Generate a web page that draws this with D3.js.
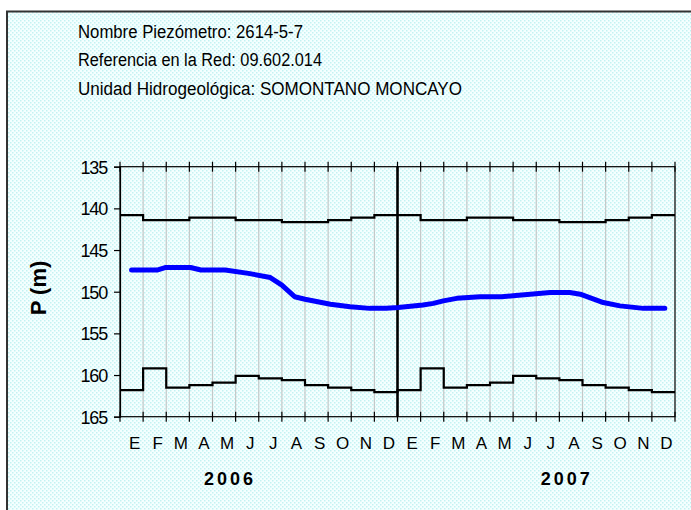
<!DOCTYPE html>
<html><head><meta charset="utf-8">
<script src="https://cdn.jsdelivr.net/npm/d3@7"></script>
<style>html,body{margin:0;padding:0;background:#fff;}svg{display:block;}</style>
</head><body>
<svg id="chart" width="691" height="510"></svg>
<script>
// ---- data ----
const headerLines = ["Nombre Piezómetro:  2614-5-7", "Referencia en la Red:   09.602.014", "Unidad Hidrogeológica: SOMONTANO  MONCAYO"];
const monthLabels = ["E","F","M","A","M","J","J","A","S","O","N","D","E","F","M","A","M","J","J","A","S","O","N","D"];
const years = ["2006","2007"];
const yTicks = [135,140,145,150,155,160,165];
const maxLevel = [140.8,141.4,141.4,141.1,141.1,141.4,141.4,141.65,141.65,141.4,141.1,140.8,
                  140.8,141.4,141.4,141.1,141.1,141.4,141.4,141.65,141.65,141.4,141.1,140.8];
const minLevel = [161.8,159.2,161.5,161.2,160.9,160.1,160.4,160.6,161.2,161.5,161.8,162.05,
                  161.8,159.2,161.5,161.2,160.9,160.1,160.4,160.6,161.2,161.5,161.8,162.05];
const measureMonth = [0.5,1.6,1.95,3.05,3.5,4.55,5.55,6.5,7.0,7.55,8.0,9.1,9.95,10.8,11.5,12.03,13.1,13.55,13.98,14.56,15.57,16.5,17.0,18.6,19.45,19.9,20.9,21.62,22.63,23.56];
const measureLevel = [147.4,147.4,147.1,147.1,147.4,147.4,147.8,148.3,149.2,150.6,150.9,151.5,151.8,152.0,152.0,151.9,151.6,151.4,151.1,150.8,150.6,150.6,150.5,150.1,150.1,150.3,151.3,151.7,152.0,152.0];

// ---- drawing ----
const svg = d3.select("#chart");
const font = "'Liberation Sans', Arial, sans-serif";
const defs = svg.append("defs");
const pat = defs.append("pattern").attr("id","dots").attr("patternUnits","userSpaceOnUse")
  .attr("width",4).attr("height",4);
pat.append("rect").attr("width",4).attr("height",4).attr("fill","#f4ffff");
pat.append("rect").attr("x",0).attr("y",0).attr("width",1.5).attr("height",1.5).attr("fill","#c4f2f2");
pat.append("rect").attr("x",2).attr("y",2).attr("width",1.5).attr("height",1.5).attr("fill","#c4f2f2");

svg.append("rect").attr("x",7).attr("y",11.5).attr("width",700).attr("height",520)
  .attr("fill","url(#dots)").attr("stroke","#333").attr("stroke-width",2);

const hdr = svg.append("g").attr("font-family",font).attr("font-size",18).attr("fill","#000");
const hdrLen = [225,244,384];
const hdrY = [37.5,66,94.5];
headerLines.forEach((t,i)=>{
  hdr.append("text").attr("x",78).attr("y",hdrY[i]).attr("textLength",hdrLen[i])
    .attr("lengthAdjust","spacingAndGlyphs").text(t);
});

const pLeft=120, pRight=675, pTop=166.7, pBottom=416.7;
const x = d3.scaleLinear().domain([0,24]).range([pLeft,pRight]);
const y = d3.scaleLinear().domain([135,165]).range([pTop,pBottom]);

// gridlines
const g = svg.append("g");
g.selectAll(".grid").data(d3.range(1,24)).join("line")
  .attr("x1",d=>x(d)).attr("x2",d=>x(d)).attr("y1",pTop).attr("y2",pBottom)
  .attr("stroke","#c4c8c8").attr("stroke-width",1.2);

// frame
g.append("rect").attr("x",pLeft).attr("y",pTop).attr("width",pRight-pLeft).attr("height",pBottom-pTop)
  .attr("fill","none").attr("stroke","#000").attr("stroke-width",1.2);

// top and bottom cross ticks
[pTop,pBottom].forEach(yy=>{
  g.append("g").selectAll("line").data(d3.range(0,25)).join("line")
    .attr("x1",d=>x(d)).attr("x2",d=>x(d)).attr("y1",yy-5).attr("y2",yy+5)
    .attr("stroke","#000").attr("stroke-width",1.2);
});

// y axis
const yAxis = d3.axisLeft(y).tickValues(yTicks).tickSize(6).tickPadding(7);
const ya = svg.append("g").attr("transform",`translate(${pLeft},0)`).call(yAxis);
ya.select(".domain").attr("stroke","#000").attr("stroke-width",1.2);
ya.selectAll(".tick line").attr("stroke","#000").attr("stroke-width",1.2);
ya.selectAll(".tick text").attr("font-family",font).attr("font-size",18)
  .attr("letter-spacing","-1.2px").attr("fill","#000").attr("dy","0.36em");

// x labels
const xa = svg.append("g").attr("font-family",font).attr("font-size",17).attr("fill","#000");
xa.selectAll("text").data(monthLabels).join("text")
  .attr("x",(d,i)=>x(i+0.5)+3).attr("y",449).attr("text-anchor","middle").text(d=>d);

svg.append("g").selectAll("text").data(years).join("text")
  .attr("x",(d,i)=>[230,566.7][i]).attr("y",485).attr("text-anchor","middle")
  .attr("font-family",font).attr("font-weight","bold").attr("font-size",18)
  .attr("letter-spacing","3px").text(d=>d);

svg.append("text").attr("transform","translate(46,288) rotate(-90)")
  .attr("text-anchor","middle").attr("font-family",font).attr("font-weight","bold")
  .attr("font-size",22).text("P (m)");

// year divider
g.append("line").attr("x1",x(12)).attr("x2",x(12)).attr("y1",pTop).attr("y2",pBottom)
  .attr("stroke","#000").attr("stroke-width",2.6);

// step lines
const stepLine = d3.line().x(d=>x(d[0])).y(d=>y(d[1])).curve(d3.curveStepAfter);
[maxLevel,minLevel].forEach(arr=>{
  const pts = arr.map((v,i)=>[i,v]); pts.push([24,arr[arr.length-1]]);
  svg.append("path").attr("d",stepLine(pts)).attr("fill","none")
    .attr("stroke","#000").attr("stroke-width",2.2);
});

// measured level
const line = d3.line().x((d,i)=>x(measureMonth[i])).y(d=>y(d)).curve(d3.curveLinear);
svg.append("path").attr("d",line(measureLevel)).attr("fill","none")
  .attr("stroke","#0000ff").attr("stroke-width",5).attr("stroke-linejoin","round")
  .attr("stroke-linecap","round");
</script>
</body></html>
